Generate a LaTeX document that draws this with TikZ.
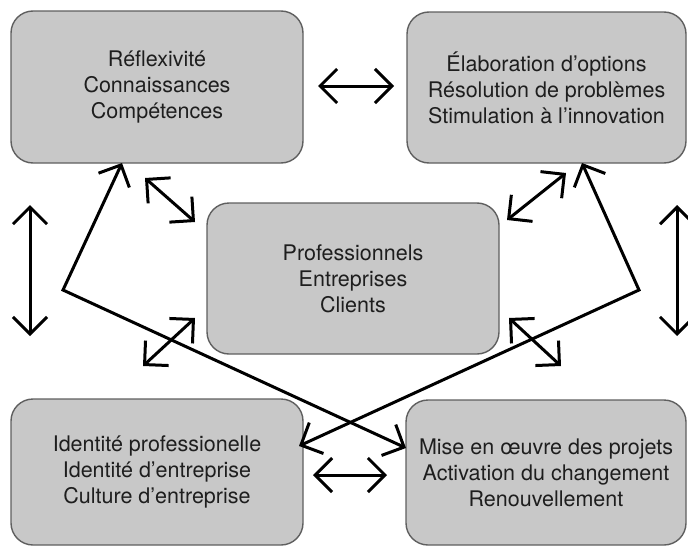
\documentclass[tikz,border=0pt]{standalone}
\usepackage{fontspec}
\setmainfont{TeX Gyre Heros}
\usetikzlibrary{arrows.meta}
\definecolor{boxfill}{RGB}{200,200,200}
\definecolor{boxline}{RGB}{95,95,95}
\definecolor{txt}{RGB}{30,30,30}
\tikzset{
  panel/.style={draw=boxline, line width=1.4pt, fill=boxfill, rounded corners=22pt,
    align=center, text=txt, font=\fontsize{21.5}{26}\selectfont, inner sep=0pt},
  dbl/.style={line width=3pt, line join=miter,
    {Straight Barb[length=17pt,width=34pt,sharp]}-{Straight Barb[length=17pt,width=34pt,sharp]}}
}
\begin{document}
\begin{tikzpicture}[x=1pt,y=-1pt]
\useasboundingbox (0,0) rectangle (688,546);
% boxes
\node[panel, minimum width=292pt, minimum height=152pt] (TL) at (157,87)
  {Réflexivité\\Connaissances\\Compétences};
\node[panel, minimum width=279pt, minimum height=151pt] (TR) at (546.5,87.5)
  {Élaboration d’options\\Résolution de problèmes\\Stimulation à l’innovation};
\node[panel, minimum width=292pt, minimum height=151pt] (C) at (353,278.5)
  {Professionnels\\Entreprises\\Clients};
\node[panel, minimum width=292pt, minimum height=146pt] (BL) at (157,472)
  {Identité professionelle\\Identité d’entreprise\\Culture d’entreprise};
\node[panel, minimum width=280pt, minimum height=145pt] (BR) at (546,472.5)
  {Mise en œuvre des projets\\Activation du changement\\Renouvellement};
% connector end points
\coordinate (h1a) at (318,86);  \coordinate (h1b) at (394,86);
\coordinate (h2a) at (313,475); \coordinate (h2b) at (387,475);
\coordinate (v1a) at (30,205);  \coordinate (v1b) at (30,336);
\coordinate (v2a) at (677,205); \coordinate (v2b) at (677,336);
\coordinate (d1a) at (145,178); \coordinate (d1b) at (195,222);
\coordinate (d2a) at (566,173); \coordinate (d2b) at (507,220);
\coordinate (d3a) at (195,318); \coordinate (d3b) at (143,366);
\coordinate (d4a) at (509,318); \coordinate (d4b) at (561,366);
\coordinate (xa1) at (122,163); \coordinate (xak) at (63,290); \coordinate (xa2) at (406,448);
\coordinate (xb1) at (582,163); \coordinate (xbk) at (639,290); \coordinate (xb2) at (299,446);
% connectors
\draw[dbl] (h1a) -- (h1b);
\draw[dbl] (h2a) -- (h2b);
\draw[dbl] (v1a) -- (v1b);
\draw[dbl] (v2a) -- (v2b);
\draw[dbl] (d1a) -- (d1b);
\draw[dbl] (d2a) -- (d2b);
\draw[dbl] (d3a) -- (d3b);
\draw[dbl] (d4a) -- (d4b);
\draw[dbl] (xa1) -- (xak) -- (xa2);
\draw[dbl] (xb1) -- (xbk) -- (xb2);
\end{tikzpicture}
\end{document}
